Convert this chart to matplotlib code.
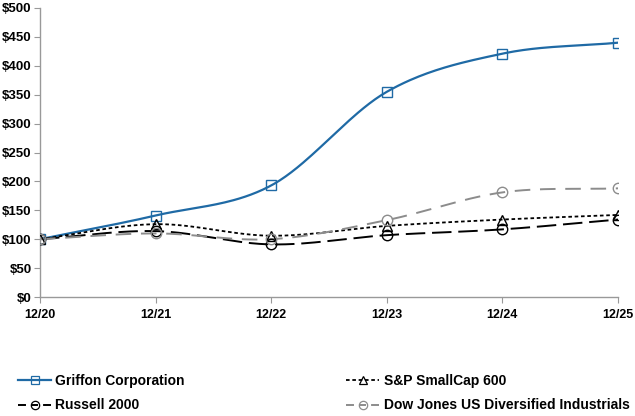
import numpy as np
import matplotlib
matplotlib.use("Agg")
import matplotlib.pyplot as plt
from matplotlib.lines import Line2D

plt.rcParams['font.family'] = ['Liberation Sans', 'DejaVu Sans']
plt.rcParams['font.weight'] = 'bold'

years = ["12/20", "12/21", "12/22", "12/23", "12/24", "12/25"]
griffon = [100, 141, 193, 355, 421, 440]
sp600 = [100, 126, 106, 123, 134, 142]
russell = [100, 114, 91, 107, 117, 134]
dowjones = [100, 110, 100, 133, 181, 188]
y_ticks = [0, 50, 100, 150, 200, 250, 300, 350, 400, 450, 500]


def smooth(x, y, n=40):
    x = np.asarray(x, float); y = np.asarray(y, float)
    px = np.concatenate([[2 * x[0] - x[1]], x, [2 * x[-1] - x[-2]]])
    py = np.concatenate([[2 * y[0] - y[1]], y, [2 * y[-1] - y[-2]]])
    xs, ys = [], []
    for i in range(1, len(px) - 2):
        t = np.linspace(0, 1, n, endpoint=(i == len(px) - 3))
        f = lambda a0, a1, a2, a3: 0.5 * ((2 * a1) + (-a0 + a2) * t +
                                          (2 * a0 - 5 * a1 + 4 * a2 - a3) * t ** 2 +
                                          (-a0 + 3 * a1 - 3 * a2 + a3) * t ** 3)
        xs.append(f(px[i - 1], px[i], px[i + 1], px[i + 2]))
        ys.append(f(py[i - 1], py[i], py[i + 1], py[i + 2]))
    return np.concatenate(xs), np.concatenate(ys)


fig = plt.figure(figsize=(6.35, 4.16), dpi=100)
ax = fig.add_axes([40 / 635, 1 - 297 / 416, 578 / 635, 289 / 416])

x = np.arange(len(years))
leg_dash = (0, (4.1, 2.6, 3.6, 2.6))
series = [
    ("Griffon Corporation", griffon, "#1f6aa5", "-", "s", 7.5, 1.6, "-"),
    ("S&P SmallCap 600", sp600, "black", (0, (2.0, 1.5)), "^", 7, 1.3, (0, (2.0, 1.5))),
    ("Russell 2000", russell, "black", (0, (10, 3.5)), "o", 7.5, 1.4, leg_dash),
    ("Dow Jones US Diversified Industrials", dowjones, "#8c8c8c", (0, (8, 5)), "o", 7.5, 1.4, leg_dash),
]
handles = []
for name, vals, col, ls, mk, ms, lw, hls in series:
    sx, sy = smooth(x, vals)
    ax.plot(sx, sy, color=col, linestyle=ls, linewidth=lw, zorder=2)
    ax.plot(x, vals, linestyle='none', marker=mk, markersize=ms,
            markerfacecolor='none', markeredgecolor=col, markeredgewidth=1.0, zorder=3)
    handles.append(Line2D([], [], color=col, linestyle=hls, linewidth=lw, marker=mk,
                          markersize=6, markerfacecolor='none', markeredgecolor=col,
                          markeredgewidth=0.9, label=name))

ax.set_xlim(0, len(years) - 1)
ax.set_ylim(0, 500)
ax.set_xticks(x)
ax.set_xticklabels(years)
ax.set_yticks(y_ticks)
ax.set_yticklabels([f"${v}" for v in y_ticks])
for s in ["top", "right"]:
    ax.spines[s].set_visible(False)
for s in ["left", "bottom"]:
    ax.spines[s].set_color("#999999")
    ax.spines[s].set_linewidth(1.0)
ax.tick_params(axis='x', length=4, color="#999999", labelsize=9, pad=5)
ax.tick_params(axis='y', length=4, color="#999999", labelsize=9.5, pad=2)
for lab in ax.get_xticklabels() + ax.get_yticklabels():
    lab.set_fontweight('bold')

legfont = {'family': ['Liberation Sans Narrow', 'Liberation Sans'], 'weight': 'bold', 'size': 10}
cols = [([handles[0], handles[2]], 18), ([handles[1], handles[3]], 346)]
for hs, xpx in cols:
    leg = fig.legend(handles=hs, labels=[h.get_label() for h in hs], ncol=1,
                     loc='upper left', bbox_to_anchor=(xpx / 635, 1 - 374 / 416),
                     frameon=False, prop=legfont, handlelength=2.4,
                     labelspacing=0.75, handletextpad=0.3, borderaxespad=0, borderpad=0)

fig.savefig("out.png", dpi=100)
